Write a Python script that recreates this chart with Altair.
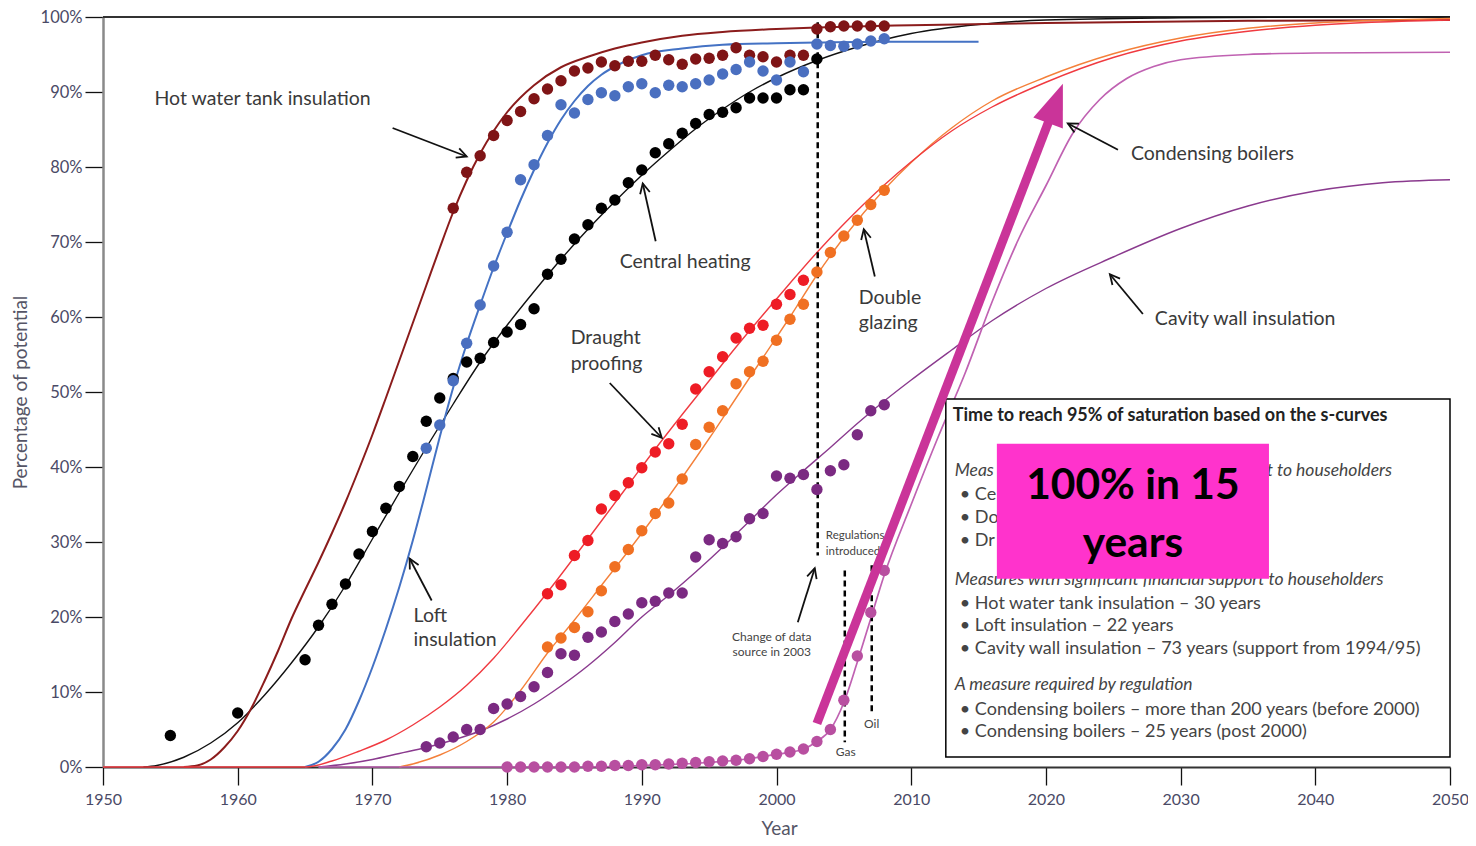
import altair as alt
import pandas as pd

FONT = "Lato"
TXT = "#3a3a3a"

# ---------------- observed data points ----------------
ch_pt_year = [1955, 1960] + list(range(1965, 2004))
ch_pt_val = [4.2, 7.2,
             14.3, 18.9, 21.7, 24.4, 28.4, 31.4, 34.5, 37.4, 41.4, 46.1,
             49.2, 51.8, 54.0, 54.5, 56.6, 58.0, 59.0, 61.1, 65.7, 67.7,
             70.4, 72.3, 74.5, 75.6, 77.9, 79.6, 81.9, 83.1, 84.5, 85.8,
             87.0, 87.3, 87.9, 89.2, 89.2, 89.2, 90.3, 90.3, 94.4]

hw_pt_year = list(range(1976, 2009))
hw_pt_val = [74.5, 79.3, 81.5, 84.2, 86.2, 87.4, 89.1, 90.4, 91.5, 92.8,
             93.2, 94.0, 93.5, 94.1, 94.1, 94.9, 94.3, 93.7, 94.4, 94.5,
             94.9, 95.9, 94.9, 94.7, 94.0, 94.9, 94.9, 98.4, 98.7, 98.8,
             98.8, 98.8, 98.8]

lo_pt_year = list(range(1974, 2009))
lo_pt_val = [42.5, 45.6, 51.5, 56.5, 61.6, 66.8, 71.3, 78.3, 80.3, 84.2,
             88.3, 87.2, 89.0, 89.9, 89.5, 90.7, 91.1, 89.9, 90.9, 90.7,
             91.1, 91.6, 92.4, 93.0, 94.0, 92.8, 91.6, 94.0, 92.7, 96.4,
             96.2, 96.1, 96.4, 96.8, 97.1]

dp_pt_year = list(range(1983, 2003))
dp_pt_val = [23.1, 24.3, 28.2, 30.2, 34.4, 36.2, 37.9, 39.9, 42.0, 43.1,
             45.7, 50.4, 52.7, 54.7, 57.2, 58.5, 58.9, 61.7, 63.0, 64.9]

dg_pt_year = list(range(1983, 2009))
dg_pt_val = [16.0, 17.2, 18.6, 20.7, 23.5, 26.7, 29.0, 31.5, 33.8, 35.2,
             38.4, 43.0, 45.3, 47.5, 51.1, 52.7, 54.1, 56.9, 59.7, 61.7,
             66.0, 68.6, 70.8, 72.9, 75.0, 76.9]

cw_pt_year = list(range(1974, 2009))
cw_pt_val = [2.7, 3.2, 4.0, 5.0, 5.0, 7.8, 8.4, 9.4, 10.7, 12.6,
             15.1, 14.9, 17.3, 18.0, 19.4, 20.4, 21.9, 22.1, 23.2, 23.2,
             28.0, 30.3, 29.8, 30.7, 33.1, 33.8, 38.8, 38.5, 39.0, 37.0,
             39.5, 40.3, 44.3, 47.5, 48.3]

cb_pt_year = list(range(1980, 2009))
cb_pt_val = [0, 0, 0, 0, 0, 0, 0.1, 0.1, 0.2, 0.2,
             0.3, 0.3, 0.4, 0.5, 0.6, 0.7, 0.8, 0.9, 1.1, 1.4,
             1.7, 2.0, 2.4, 3.4, 5.0, 8.9, 14.8, 20.6, 26.2]

# ---------------- fitted s-curves ----------------
ch_cv_year = [1953, 1954, 1956, 1958, 1960, 1962, 1964, 1966, 1968, 1970,
              1972, 1974, 1976, 1978, 1980, 1982, 1984, 1986, 1988, 1990,
              1992, 1994, 1996, 1998, 2000, 2003, 2006, 2010, 2015, 2020,
              2030, 2040, 2050]
ch_cv_val = [0, 0.2, 1.3, 3.2, 5.9, 9.6, 13.9, 18.7, 24.2, 30.4,
             36.6, 42.6, 48.4, 54.0, 58.9, 63.4, 67.7, 71.7, 75.4, 78.9,
             82.1, 85.1, 87.7, 90.0, 91.9, 94.2, 96.0, 97.8, 99.0, 99.6,
             99.9, 100, 100]

hw_cv_year = [1956, 1957, 1958, 1959, 1960, 1961, 1962, 1963, 1964, 1965,
              1966, 1967, 1968, 1969, 1970, 1971, 1972, 1973, 1974, 1975,
              1976, 1977, 1978, 1979, 1980, 1982, 1984, 1986, 1988, 1990,
              1993, 1996, 2000, 2003, 2010, 2020, 2035, 2050]
hw_cv_val = [0, 0.2, 1.0, 2.6, 4.8, 7.8, 11.5, 15.5, 19.8, 23.6,
             27.3, 31.2, 35.3, 39.7, 44.3, 49.2, 54.2, 59.2, 64.2, 69.2,
             74.0, 78.2, 81.8, 84.8, 87.3, 90.9, 93.3, 94.7, 95.8, 96.6,
             97.5, 98.0, 98.4, 98.6, 98.9, 99.2, 99.5, 99.6]

lo_cv_year = [1965, 1966, 1967, 1968, 1969, 1970, 1971, 1972, 1973, 1974,
              1975, 1976, 1977, 1978, 1979, 1980, 1981, 1982, 1983, 1984,
              1985, 1986, 1987, 1988, 1990, 1993, 1996, 2000, 2003, 2008, 2015]
lo_cv_val = [0, 0.7, 2.4, 5.0, 8.8, 13.3, 18.4, 24.0, 30.2, 37.0,
             44.0, 50.6, 56.4, 61.6, 66.6, 71.2, 75.6, 79.6, 83.2, 86.3,
             88.8, 90.8, 92.3, 93.4, 94.9, 95.8, 96.3, 96.5, 96.6, 96.7, 96.7]

dp_cv_year = [1950, 1965, 1967, 1969, 1971, 1973, 1975, 1977, 1979, 1981,
              1983, 1985, 1987, 1989, 1991, 1993, 1995, 1997, 1999, 2001,
              2003, 2005, 2008, 2010, 2013, 2016, 2020, 2025, 2030, 2035,
              2040, 2050]
dp_cv_val = [0, 0, 0.8, 2.1, 3.6, 5.6, 8.0, 10.9, 14.5, 18.8,
             23.3, 28.0, 32.8, 37.6, 42.4, 47.0, 51.5, 56.0, 60.3, 64.5,
             68.6, 72.4, 77.6, 80.7, 84.8, 88.0, 91.3, 94.6, 96.8, 98.1,
             98.9, 99.6]

dg_cv_year = [1972, 1973, 1975, 1977, 1979, 1981, 1983, 1985, 1987, 1989,
              1991, 1993, 1995, 1997, 1999, 2001, 2003, 2005, 2008, 2010,
              2013, 2016, 2020, 2025, 2030, 2035, 2040, 2050]
dg_cv_val = [0, 0.4, 1.6, 3.4, 6.0, 10.2, 15.2, 19.6, 24.2, 28.8,
             33.6, 38.6, 43.8, 49.2, 54.6, 60.0, 65.6, 70.6, 77.0, 80.6,
             85.2, 88.8, 92.0, 95.1, 97.2, 98.5, 99.2, 99.8]

cw_cv_year = [1966, 1968, 1970, 1972, 1974, 1976, 1978, 1980, 1982, 1984,
              1986, 1988, 1990, 1992, 1994, 1996, 1998, 2000, 2002, 2004,
              2006, 2008, 2010, 2013, 2016, 2020, 2025, 2030, 2035, 2040,
              2045, 2050]
cw_cv_val = [0, 0.4, 1.0, 1.8, 2.6, 3.6, 4.8, 6.4, 8.4, 10.8,
             13.5, 16.6, 20.0, 22.9, 26.0, 29.3, 32.8, 36.3, 39.5, 42.6,
             45.8, 48.8, 51.6, 55.6, 59.5, 63.8, 68.0, 71.8, 74.8, 76.8,
             77.9, 78.3]

cb_cv_year = [1966, 1985, 1990, 1995, 1998, 2000, 2002, 2003, 2004, 2005,
              2006, 2007, 2008, 2010, 2012, 2014, 2016, 2018, 2020, 2022,
              2024, 2026, 2028, 2030, 2035, 2040, 2050]
cb_cv_val = [0, 0, 0.2, 0.6, 1.1, 1.7, 2.4, 3.4, 5.0, 8.6,
             14.0, 19.8, 25.6, 35.0, 44.0, 52.5, 62.0, 70.5, 77.5, 84.5,
             89.0, 91.8, 93.4, 94.3, 95.0, 95.2, 95.3]

x_ticks = [1950, 1960, 1970, 1980, 1990, 2000, 2010, 2020, 2030, 2040, 2050]
y_ticks = [0, 10, 20, 30, 40, 50, 60, 70, 80, 90, 100]

# ---------------- annotations (data units) ----------------
labels = [("Hot water tank insulation", 1953.82, 89.1),
          ("Central heating", 1988.36, 67.4),
          ("Loft", 1973.06, 20.2), ("insulation", 1973.06, 16.9),
          ("Draught", 1984.72, 57.2), ("proofing", 1984.72, 53.7),
          ("Double", 2006.11, 62.6), ("glazing", 2006.11, 59.2),
          ("Condensing boilers", 2026.31, 81.8),
          ("Cavity wall insulation", 2028.09, 59.8)]
small_center = [("Change of data", 1999.65, 17.4), ("source in 2003", 1999.65, 15.4),
                ("Gas", 2005.14, 2.0), ("Oil", 2007.07, 5.7)]
small_left = [("Regulations", 2003.66, 30.85), ("introduced", 2003.66, 28.7)]

arrows = [(1971.5, 85.2, 1977.0, 81.4, 111),
          (1991.03, 70.1, 1990.07, 77.8, 347),
          (1974.4, 22.2, 1972.76, 27.8, 332),
          (1987.62, 51.2, 1991.48, 43.9, 137),
          (2007.30, 65.4, 2006.48, 71.7, 347),
          (2025.35, 82.3, 2021.63, 85.8, 297),
          (2027.2, 60.4, 2024.75, 65.7, 320),
          (2001.58, 19.3, 2002.84, 26.5, 17)]

dash_year = [2003.06, 2005.07, 2007.07]
dash_top = [99.3, 26.2, 26.9]
dash_bottom = [28.2, 3.3, 7.3]

box_title = ("Time to reach 95% of saturation based on the s-curves", 2013.09, 46.8)
box_italic = [("Meas", 2013.23, 39.5),
              ("Measures with significant financial support to householders", 2013.23, 25.0),
              ("A measure required by regulation", 2013.23, 10.9)]
box_italic_right = [("t to householders", 2045.69, 39.5)]
box_bullets = [("•  Ce", 2013.61, 36.3),
               ("•  Do", 2013.61, 33.2),
               ("•  Dr", 2013.61, 30.2),
               ("•  Hot water tank insulation – 30 years", 2013.61, 21.8),
               ("•  Loft insulation – 22 years", 2013.61, 18.75),
               ("•  Cavity wall insulation – 73 years (support from 1994/95)", 2013.61, 15.7),
               ("•  Condensing boilers – more than 200 years (before 2000)", 2013.61, 7.6),
               ("•  Condensing boilers – 25 years (post 2000)", 2013.61, 4.65)]
callout_text = [("100% in 15", 2026.46, 37.5), ("years", 2026.46, 29.8)]

# ---------------- scales & axes ----------------
xscale = alt.Scale(domain=[1950, 2050], nice=False, zero=False)
yscale = alt.Scale(domain=[0, 100], nice=False, zero=False)
xaxis = alt.Axis(values=x_ticks, format="d", title="Year", tickSize=18, tickColor="#111",
                 tickWidth=1.3, domainColor="#333", domainWidth=2, labelFont=FONT,
                 labelFontSize=16, labelColor="#4a4a66", labelPadding=6, labelFlush=False,
                 labelOverlap=False, grid=False, titleFont=FONT, titleFontSize=19,
                 titleFontWeight="normal", titleColor="#555566", titleX=676, titleY=61,
                 titleAlign="center", titleBaseline="middle")
yaxis = alt.Axis(values=y_ticks, labelExpr="datum.value + '%'", title="Percentage of potential",
                 tickSize=18, tickColor="#111", tickWidth=1.3, domainColor="#8a8a8a",
                 domainWidth=2.5, labelFont=FONT, labelFontSize=16.5, labelColor="#4a4a66",
                 labelPadding=3, labelFlush=False, labelOverlap=False, grid=False,
                 titleFont=FONT, titleFontSize=19, titleFontWeight="normal",
                 titleColor="#555566", titleX=-83, titleY=375, titleAngle=270,
                 titleAlign="center", titleBaseline="middle")


def X(f="year"):
    return alt.X(f"{f}:Q", scale=xscale, axis=xaxis)


def Y(f="pct"):
    return alt.Y(f"{f}:Q", scale=yscale, axis=yaxis)


def tdf(items):
    return pd.DataFrame({"text": [t[0] for t in items], "year": [t[1] for t in items],
                         "pct": [t[2] for t in items]})


layers = []

# top frame
frame = pd.DataFrame({"year": [1950], "year2": [2050], "pct": [100]})
layers.append(alt.Chart(frame).mark_rule(color="#333", strokeWidth=2)
              .encode(x=X(), x2="year2:Q", y=Y()))

curves = [(ch_cv_year, ch_cv_val, "#111111", 1.4),
          (hw_cv_year, hw_cv_val, "#8B1C1C", 2.0),
          (lo_cv_year, lo_cv_val, "#4472C4", 2.0),
          (cw_cv_year, cw_cv_val, "#8A3A8E", 1.4),
          (dg_cv_year, dg_cv_val, "#F4803A", 1.4),
          (dp_cv_year, dp_cv_val, "#F03A40", 1.4),
          (cb_cv_year, cb_cv_val, "#C062B2", 1.7)]
for yrs, vals, col, w in curves:
    df = pd.DataFrame({"year": yrs, "pct": vals})
    layers.append(alt.Chart(df).mark_line(color=col, strokeWidth=w, interpolate="monotone")
                  .encode(x=X(), y=Y()))

# dashed markers
ddf = pd.DataFrame({"year": dash_year, "pct": dash_top, "pct2": dash_bottom})
layers.append(alt.Chart(ddf).mark_rule(color="black", strokeWidth=2.5, strokeDash=[6, 4])
              .encode(x=X(), y=Y(), y2="pct2:Q"))

points = [(ch_pt_year, ch_pt_val, "#000000"),
          (hw_pt_year, hw_pt_val, "#7F1416"),
          (lo_pt_year, lo_pt_val, "#4A6FC0"),
          (dp_pt_year, dp_pt_val, "#EE1C25"),
          (dg_pt_year, dg_pt_val, "#F07022"),
          (cw_pt_year, cw_pt_val, "#7B2A82"),
          (cb_pt_year, cb_pt_val, "#B84FA0")]
for yrs, vals, col in points:
    df = pd.DataFrame({"year": yrs, "pct": vals})
    layers.append(alt.Chart(df).mark_point(filled=True, size=130, shape="circle", color=col,
                                           opacity=1).encode(x=X(), y=Y()))

# labels
layers.append(alt.Chart(tdf(labels)).mark_text(align="left", baseline="middle", font=FONT,
                                               fontSize=19.5, color=TXT)
              .encode(x=X(), y=Y(), text="text:N"))
layers.append(alt.Chart(tdf(small_center)).mark_text(align="center", baseline="middle", font=FONT,
                                                     fontSize=12, color="#444")
              .encode(x=X(), y=Y(), text="text:N"))
layers.append(alt.Chart(tdf(small_left)).mark_text(align="left", baseline="middle", font=FONT,
                                                   fontSize=11.5, color="#444")
              .encode(x=X(), y=Y(), text="text:N"))

# arrows
HEAD = "M-0.55,1.1L0,0L0.55,1.1"
for x0, y0, x1, y1, ang in arrows:
    adf = pd.DataFrame({"year": [x0], "pct": [y0], "year2": [x1], "pct2": [y1]})
    layers.append(alt.Chart(adf).mark_rule(color="#111", strokeWidth=1.8)
                  .encode(x=X(), y=Y(), x2="year2:Q", y2="pct2:Q"))
    hdf = pd.DataFrame({"year": [x1], "pct": [y1]})
    layers.append(alt.Chart(hdf).mark_point(shape=HEAD, size=324, angle=ang, filled=False,
                                            color="#111", strokeWidth=1.8, opacity=1)
                  .encode(x=X(), y=Y()))

# info box
bdf = pd.DataFrame({"year": [2012.57], "year2": [2050], "pct": [49.07], "pct2": [1.33]})
layers.append(alt.Chart(bdf).mark_rect(fill="white", stroke="black", strokeWidth=1.5)
              .encode(x=X(), x2="year2:Q", y=Y(), y2="pct2:Q"))
layers.append(alt.Chart(tdf([box_title])).mark_text(align="left", baseline="middle", font=FONT,
                                                    fontSize=18, fontWeight="bold", color="#222")
              .encode(x=X(), y=Y(), text="text:N"))
layers.append(alt.Chart(tdf(box_italic)).mark_text(align="left", baseline="middle", font=FONT,
                                                   fontSize=17.5, fontStyle="italic", color="#444")
              .encode(x=X(), y=Y(), text="text:N"))
layers.append(alt.Chart(tdf(box_italic_right)).mark_text(align="right", baseline="middle", font=FONT,
                                                         fontSize=17.5, fontStyle="italic", color="#444")
              .encode(x=X(), y=Y(), text="text:N"))
layers.append(alt.Chart(tdf(box_bullets)).mark_text(align="left", baseline="middle", font=FONT,
                                                    fontSize=18, color="#444")
              .encode(x=X(), y=Y(), text="text:N"))

# magenta callout
mdf = pd.DataFrame({"year": [2016.36], "year2": [2036.56], "pct": [43.1], "pct2": [25.1]})
layers.append(alt.Chart(mdf).mark_rect(fill="#FF33CC")
              .encode(x=X(), x2="year2:Q", y=Y(), y2="pct2:Q"))
layers.append(alt.Chart(tdf(callout_text)).mark_text(align="center", baseline="middle", font=FONT,
                                                     fontSize=42.5, fontWeight="bold", color="black")
              .encode(x=X(), y=Y(), text="text:N"))

# big magenta arrow
big = pd.DataFrame({"year": [2003.0], "pct": [5.8], "year2": [2020.3], "pct2": [86.5]})
layers.append(alt.Chart(big).mark_rule(color="#CA3499", strokeWidth=9, strokeCap="butt")
              .encode(x=X(), y=Y(), x2="year2:Q", y2="pct2:Q"))
tip = pd.DataFrame({"year": [2021.26], "pct": [91.1]})
layers.append(alt.Chart(tip).mark_point(shape="M0,0L0.75,2L-0.75,2Z", size=1764, angle=20.6,
                                        filled=True, color="#CA3499", opacity=1)
              .encode(x=X(), y=Y()))

chart = (alt.layer(*layers)
         .properties(width=1347, height=750,
                     autosize=alt.AutoSizeParams(type="none"),
                     padding={"left": 95, "top": 9, "right": 18, "bottom": 70})
         .configure_view(stroke=None))

chart.save("out.html", embed_options={"renderer": "svg", "actions": False})
